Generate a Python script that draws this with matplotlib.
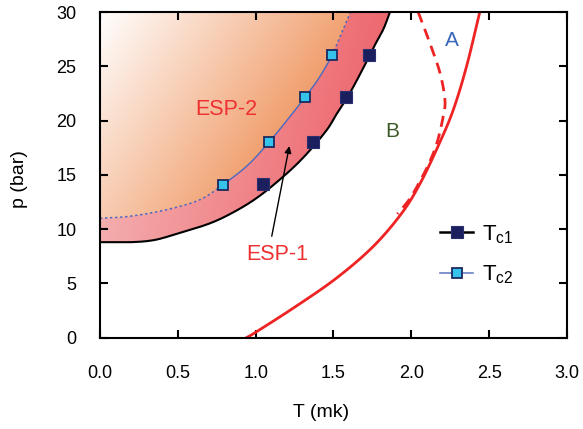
import numpy as np
import matplotlib
matplotlib.use("Agg")
import matplotlib.pyplot as plt
from matplotlib.path import Path
from matplotlib.patches import PathPatch
from matplotlib.lines import Line2D

plt.rcParams['font.family'] = ['Liberation Sans', 'DejaVu Sans']

# ---- data ----
tc1_T = [1.05, 1.37, 1.58, 1.73]
tc1_p = [14.2, 18.0, 22.15, 26.0]
tc2_T = [0.79, 1.085, 1.32, 1.49]
tc2_p = [14.1, 18.0, 22.2, 26.0]

# phase boundary curves
tc1_curve_T = [0.0, 0.2, 0.35, 0.5, 0.7, 0.85, 1.0, 1.15, 1.3, 1.45, 1.52, 1.6, 1.69, 1.76, 1.82, 1.863]
tc1_curve_p = [8.8, 8.8, 9.0, 9.6, 10.5, 11.5, 12.8, 14.5, 16.5, 19.0, 20.6, 22.4, 24.8, 26.8, 28.4, 30.0]
tc2_curve_T = [0.0, 0.2, 0.43, 0.64, 0.79, 0.95, 1.085, 1.2, 1.32, 1.41, 1.49, 1.55, 1.61]
tc2_curve_p = [11.0, 11.2, 11.8, 12.7, 14.1, 15.9, 18.0, 20.0, 22.2, 24.0, 26.0, 28.0, 30.0]

ab_T = [0.94, 1.0, 1.26, 1.52, 1.755, 1.94, 2.06, 2.18, 2.27, 2.355, 2.44]
ab_p = [0.0, 0.5, 2.9, 5.5, 8.4, 11.5, 14.3, 17.9, 21.0, 25.0, 30.0]
ab_dash_T = [2.044, 2.12, 2.184, 2.216, 2.205, 2.17, 2.13, 2.07, 1.99, 1.91]
ab_dash_p = [30.0, 27.1, 24.4, 21.9, 20.4, 18.2, 16.6, 14.8, 12.8, 11.4]

xticks = [0.0, 0.5, 1.0, 1.5, 2.0, 2.5, 3.0]
yticks = [0, 5, 10, 15, 20, 25, 30]


def smooth(xs, ys, n=12):
    """Catmull-Rom rendering of a polyline through the given points (drawing only)."""
    P = np.column_stack([xs, ys]).astype(float)
    P = np.vstack([2 * P[0] - P[1], P, 2 * P[-1] - P[-2]])
    out = []
    for i in range(1, len(P) - 2):
        p0, p1, p2, p3 = P[i - 1], P[i], P[i + 1], P[i + 2]
        t = np.linspace(0, 1, n, endpoint=False)[:, None]
        seg = 0.5 * ((2 * p1) + (-p0 + p2) * t + (2 * p0 - 5 * p1 + 4 * p2 - p3) * t ** 2
                     + (-p0 + 3 * p1 - 3 * p2 + p3) * t ** 3)
        out.append(seg)
    out.append(P[-2][None, :])
    S = np.vstack(out)
    return S[:, 0], S[:, 1]


fig = plt.figure(figsize=(5.83, 4.29), dpi=100)
ax = fig.add_axes([0.1715, 0.2128, 0.801, 0.7592])
ax.set_xlim(0, 3)
ax.set_ylim(0, 30)

s1x, s1y = smooth(tc1_curve_T, tc1_curve_p)
s2x, s2y = smooth(tc2_curve_T, tc2_curve_p)

# ---- gradient fills ----
gx = np.linspace(0, 1.9, 300)
gy = np.linspace(8, 30, 300)
GX, GY = np.meshgrid(gx, gy)
dx = GX * 155.7
dy = (30 - GY) * 10.85

# ESP-1 band (pink -> red)
t1 = np.clip((dx * 0.8 + dy * 0.2) / 260.0, 0, 1)[..., None]
c_a = np.array([0.965, 0.74, 0.74])
c_b = np.array([0.925, 0.37, 0.40])
img1 = c_a * (1 - t1) + c_b * t1
im1 = ax.imshow(img1, extent=[0, 1.9, 8, 30], origin='lower', aspect='auto', zorder=1)
verts1 = [(0, 30)] + list(zip(s1x, s1y)) + [(0, 30)]
patch1 = PathPatch(Path(verts1), transform=ax.transData, facecolor='none', edgecolor='none')
ax.add_patch(patch1)
im1.set_clip_path(patch1)

# ESP-2 region (white -> orange)
t2 = np.clip((dx + 0.7 * dy) / 260.0, 0, 1)[..., None]
c_w = np.array([1.0, 1.0, 1.0])
c_o = np.array([0.945, 0.63, 0.44])
img2 = c_w * (1 - t2) + c_o * t2
im2 = ax.imshow(img2, extent=[0, 1.9, 8, 30], origin='lower', aspect='auto', zorder=1.5)
verts2 = [(0, 30)] + list(zip(s2x, s2y)) + [(0, 30)]
patch2 = PathPatch(Path(verts2), transform=ax.transData, facecolor='none', edgecolor='none')
ax.add_patch(patch2)
im2.set_clip_path(patch2)

# ---- lines ----
ax.plot(s1x, s1y, color='black', lw=1.5, zorder=3)
blue = '#4a68c0'
m_lo = s2x <= 0.79
m_mid = (s2x >= 0.785) & (s2x <= 1.495)
m_hi = s2x >= 1.49
ax.plot(s2x[m_lo], s2y[m_lo], color=blue, lw=1.1, ls=(0, (1.5, 1.8)), zorder=3)
ax.plot(s2x[m_mid], s2y[m_mid], color=blue, lw=1.0, zorder=3)
ax.plot(s2x[m_hi], s2y[m_hi], color=blue, lw=1.1, ls=(0, (1.5, 1.8)), zorder=3)

red = '#ee2424'
rx, ry = smooth(ab_T, ab_p)
ax.plot(rx, ry, color=red, lw=2.0, zorder=3)
dxr, dyr = smooth(ab_dash_T, ab_dash_p)
ax.plot(dxr, dyr, color=red, lw=2.0, ls=(0, (4, 2.5)), zorder=3)

# markers
ax.plot(tc1_T, tc1_p, ls='none', marker='s', ms=8.5, mfc='#1c1f5e', mec='#2a2f70', mew=0.8, zorder=4)
ax.plot(tc2_T, tc2_p, ls='none', marker='s', ms=7.5, mfc='#35c3ec', mec='#1c2a5e', mew=1.3, zorder=4)

# ---- text ----
ax.text(0.81, 21.0, 'ESP-2', color='#ee3030', fontsize=15.5, ha='center', va='center', zorder=5)
ax.text(1.137, 7.7, 'ESP-1', color='#ee3030', fontsize=15.5, ha='center', va='center', zorder=5)
ax.text(2.26, 27.4, 'A', color='#3a68b8', fontsize=15, ha='center', va='center', zorder=5)
ax.text(1.88, 19.0, 'B', color='#3d5a28', fontsize=15, ha='center', va='center', zorder=5)
ax.annotate('', xy=(1.22, 17.9), xytext=(1.10, 9.1),
            arrowprops=dict(arrowstyle='-|>', color='black', lw=1.0, mutation_scale=10), zorder=5)

# ---- legend ----
h1 = Line2D([], [], color='black', lw=1.8, marker='s', ms=8.5, mfc='#1c1f5e', mec='#2a2f70', mew=0.8)
h2 = Line2D([], [], color='#6a80c8', lw=1.2, marker='s', ms=7.5, mfc='#35c3ec', mec='#1c2a5e', mew=1.3)
leg = ax.legend([h1, h2], [r'$\mathregular{T_{c1}}$', r'$\mathregular{T_{c2}}$'],
                loc='upper left', bbox_to_anchor=(0.728, 0.352), frameon=False,
                fontsize=16, handlelength=1.5, handletextpad=0.4, labelspacing=0.8,
                borderpad=0, borderaxespad=0)

# ---- axes styling ----
for s in ax.spines.values():
    s.set_linewidth(1.5)
    s.set_zorder(6)
ax.set_xticks(xticks)
ax.set_xticklabels([f'{v:.1f}' for v in xticks])
ax.set_yticks(yticks)
ax.tick_params(direction='in', length=6, width=1.5, top=True, right=True, labelsize=13)
ax.tick_params(axis='x', pad=20)
ax.tick_params(axis='y', pad=17)
ax.set_xlabel('T (mk)', fontsize=14)
ax.set_ylabel('p (bar)', fontsize=14)
ax.xaxis.set_label_coords(0.473, -0.205)
ax.yaxis.set_label_coords(-0.154, 0.487)

fig.savefig('out.png', dpi=100)
